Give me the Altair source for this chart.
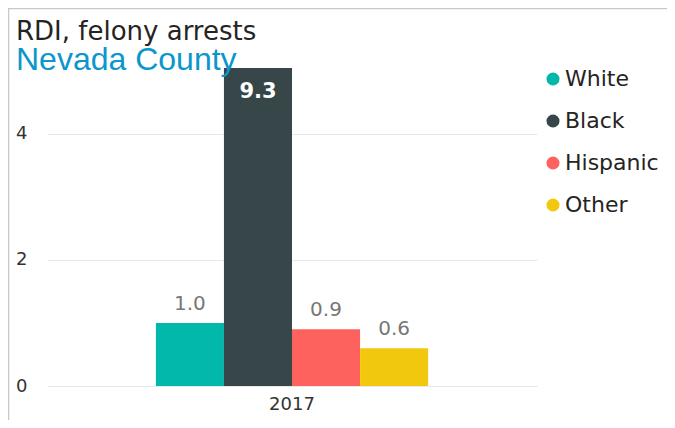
import altair as alt
import pandas as pd

races = ["White", "Black", "Hispanic", "Other"]
values = [1.0, 9.3, 0.9, 0.6]
years = ["2017"] * 4
colors = ["#01B8AA", "#374649", "#FD625E", "#F2C80F"]
y_ticks = [0, 2, 4]
y_max = 5.04

df = pd.DataFrame({"year": years, "race": races, "value": values})

base = alt.Chart(df).transform_calculate(
    yv=f"min(datum.value, {y_max})",
    over=f"datum.value > {y_max}",
)

x_enc = alt.X("year:N", title=None,
              scale=alt.Scale(paddingOuter=0.4, paddingInner=0),
              axis=alt.Axis(labelAngle=0, domain=False, ticks=False, labelPadding=9,
                            labelFont="DejaVu Sans", labelFontSize=18, labelColor="#333333"))
xo_enc = alt.XOffset("race:N", sort=races, scale=alt.Scale(paddingInner=0, paddingOuter=0))
y_scale = alt.Scale(domain=[0, y_max], clamp=True, nice=False)

bars = base.mark_bar().encode(
    x=x_enc,
    xOffset=xo_enc,
    y=alt.Y("yv:Q", title=None, scale=y_scale,
            axis=alt.Axis(values=y_ticks, format="d", domain=False, ticks=False, labelPadding=20,
                          labelFont="DejaVu Sans", labelFontSize=18, labelColor="#333333",
                          grid=True, gridColor="#E8E8E8", gridWidth=1)),
    color=alt.Color("race:N", sort=races, title=None,
                    scale=alt.Scale(domain=races, range=colors),
                    legend=alt.Legend(orient="none", legendX=495, legendY=0,
                                      symbolType="circle", symbolSize=170, symbolStrokeWidth=0,
                                      labelFont="DejaVu Sans", labelFontSize=22, labelColor="#252423",
                                      labelOffset=1, rowPadding=20, padding=0)),
)

labels_out = base.transform_filter("!datum.over").mark_text(
    baseline="alphabetic", dy=-13, font="DejaVu Sans", fontSize=20, color="#777777"
).encode(x=alt.X("year:N"), xOffset=xo_enc, y=alt.Y("yv:Q", scale=y_scale),
         text=alt.Text("value:Q", format=".1f"))

labels_in = base.transform_filter("datum.over").mark_text(
    baseline="alphabetic", dy=30, font="DejaVu Sans", fontSize=21, fontWeight="bold", color="#FFFFFF"
).encode(x=alt.X("year:N"), xOffset=xo_enc, y=alt.Y("yv:Q", scale=y_scale),
         text=alt.Text("value:Q", format=".1f"))

frame = alt.Chart(pd.DataFrame({"f": [0]})).mark_rect(
    fill="transparent", stroke="#C8C8C8", strokeWidth=1.5, clip=False
).encode(x=alt.value(-38.5), x2=alt.value(700), y=alt.value(-59.5), y2=alt.value(500))

chart = alt.layer(frame, bars, labels_out, labels_in).properties(
    width=490, height=318,
    padding={"left": 39, "top": 60, "right": 130, "bottom": 34},
    autosize=alt.AutoSizeParams(type="none"),
    background="white",
    title=alt.TitleParams(
        text="RDI, felony arrests", subtitle="Nevada County",
        anchor="start", frame="group", dx=-31, offset=-68,
        font="DejaVu Sans", fontSize=26, fontWeight="normal", color="#252423",
        subtitleFont="Liberation Sans", subtitleFontSize=32, subtitleColor="#0B96CC",
        subtitlePadding=0,
    ),
).configure_view(stroke=None)

chart.save("out.html", embed_options={"renderer": "svg", "actions": False})
